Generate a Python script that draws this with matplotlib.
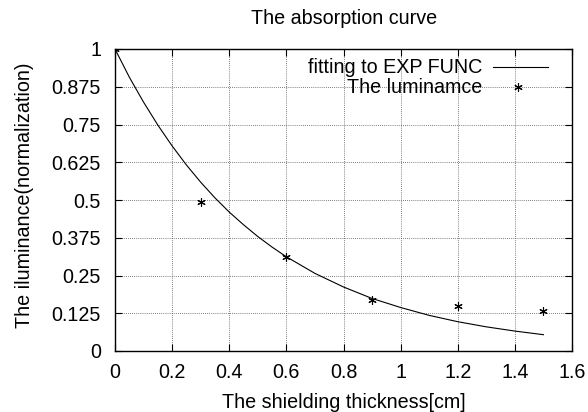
import matplotlib
matplotlib.use("Agg")
import matplotlib.pyplot as plt
from matplotlib.ticker import FixedLocator, FuncFormatter

plt.rcParams['font.family'] = ['Liberation Sans', 'DejaVu Sans']

# Measured points
meas_x = [0.0, 0.3, 0.6, 0.9, 1.2, 1.5]
meas_y = [1.0, 0.493, 0.31, 0.168, 0.15, 0.133]

# Fitted exponential curve
fit_x = [0.0, 0.05, 0.1, 0.15, 0.2, 0.25, 0.3, 0.35, 0.4, 0.45, 0.5, 0.55, 0.6,
         0.7, 0.8, 0.9, 1.0, 1.1, 1.2, 1.3, 1.4, 1.5]
fit_y = [1.0, 0.907, 0.824, 0.748, 0.679, 0.616, 0.559, 0.507, 0.460, 0.418,
         0.379, 0.344, 0.312, 0.257, 0.212, 0.174, 0.144, 0.118, 0.097, 0.080,
         0.066, 0.054]

xticks = [0, 0.2, 0.4, 0.6, 0.8, 1.0, 1.2, 1.4, 1.6]
yticks = [0, 0.125, 0.25, 0.375, 0.5, 0.625, 0.75, 0.875, 1.0]

labels = ['fitting to EXP FUNC', 'The luminamce']

FS = 14.2

fig = plt.figure(figsize=(5.88, 4.12), dpi=100)
ax = fig.add_axes([115/588, 61/412, (572-115)/588, (351-49)/412])

ax.plot(fit_x, fit_y, color='black', lw=0.8)
ax.plot(meas_x, meas_y, linestyle='none', marker=(6, 2, 0), markersize=6,
        markeredgewidth=0.8, color='black')

ax.set_xlim(0, 1.6)
ax.set_ylim(0, 1)
ax.xaxis.set_major_locator(FixedLocator(xticks))
ax.yaxis.set_major_locator(FixedLocator(yticks))
fmt = FuncFormatter(lambda v, p: f"{v:g}")
ax.xaxis.set_major_formatter(fmt)
ax.yaxis.set_major_formatter(fmt)
ax.tick_params(direction='in', length=5, width=0.8, top=True, right=True,
               labelsize=FS)
ax.tick_params(axis='x', pad=9)
ax.tick_params(axis='y', pad=10)
ax.grid(True, color='#555555', linestyle=(0, (1, 1.5)), linewidth=0.6)
for s in ax.spines.values():
    s.set_linewidth(1.0)

# Key (gnuplot style: right-aligned text, sample on the right)
ax.text(0.803, 0.940, labels[0], transform=ax.transAxes, ha='right', va='center', fontsize=FS)
ax.text(0.803, 0.874, labels[1], transform=ax.transAxes, ha='right', va='center', fontsize=FS)
ax.plot([0.827, 0.947], [0.940, 0.940], transform=ax.transAxes, color='black', lw=0.8)
ax.plot([0.882], [0.874], transform=ax.transAxes, linestyle='none', marker=(6, 2, 0),
        markersize=6, markeredgewidth=0.8, color='black')

fig.text(344/588, 394/412, 'The absorption curve', ha='center', va='center', fontsize=FS)
fig.text(344/588, 10/412, 'The shielding thickness[cm]', ha='center', va='center', fontsize=FS)
fig.text(25/588, 217/412, 'The iluminance(normalization)', ha='center', va='center',
         rotation=90, fontsize=FS)

fig.savefig('out.png', dpi=100)
